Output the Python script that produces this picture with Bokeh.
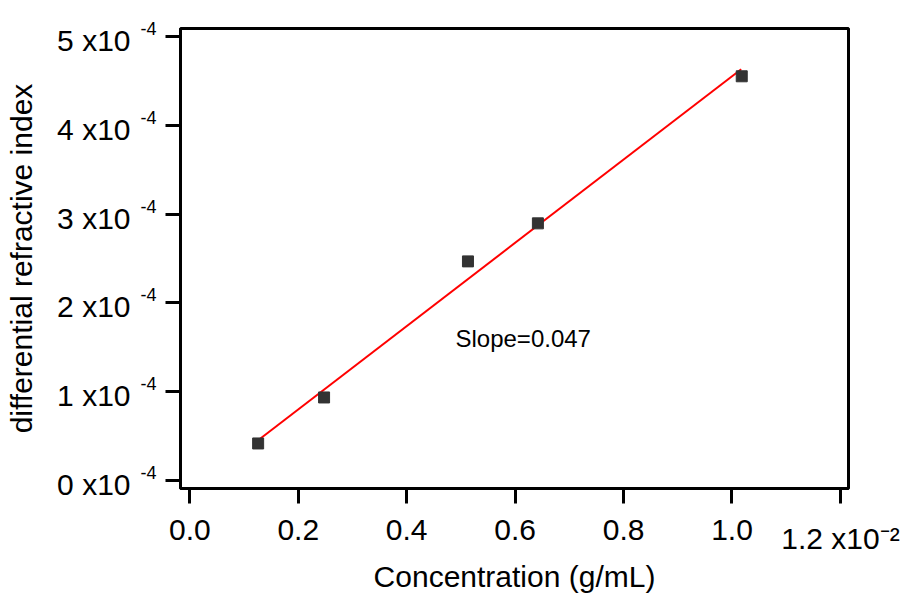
from bokeh.plotting import figure
from bokeh.models import (Range1d, FixedTicker, LinearAxis, Label, CustomJSTickFormatter)
from bokeh.embed import file_html
from bokeh.resources import INLINE

# ---- data ----
conc = [0.00126, 0.002476, 0.00513, 0.00642, 0.01018]          # g/mL
dri = [0.414e-4, 0.933e-4, 2.468e-4, 2.897e-4, 4.556e-4]      # differential refractive index
fit_x = [0.00126, 0.01017]
fit_y = [0.451e-4, 4.635e-4]
slope_text = "Slope=0.047"

x_ticks = [0.0, 0.002, 0.004, 0.006, 0.008, 0.010, 0.012]
x_tick_labels = ["0.0", "0.2", "0.4", "0.6", "0.8", "1.0", "1.2"]
x_exponent = "\u207b\u00b2"          # superscript -2
y_ticks = [0.0, 1e-4, 2e-4, 3e-4, 4e-4, 5e-4]
y_tick_labels = ["0 x10", "1 x10", "2 x10", "3 x10", "4 x10", "5 x10"]
y_exponent = "-4"

x_title = "Concentration (g/mL)"
y_title = "differential refractive index"

# ---- layout ----
X0, X1 = -0.000172, 0.012149
Y0, Y1 = -0.094e-4, 5.095e-4
FH = 460                               # frame height in px
KY = (Y1 - Y0) / FH                    # data units per pixel
FONT = "Liberation Sans"

p = figure(width=905, height=595, output_backend="svg", toolbar_location=None,
           x_range=Range1d(X0, X1), y_range=Range1d(Y0, Y1),
           min_border_left=180, min_border_right=57, min_border_top=28,
           min_border_bottom=107)
p.background_fill_color = "white"
p.border_fill_color = "white"
p.outline_line_color = "black"
p.outline_line_width = 3
p.grid.visible = False

# label-only axes use ranges shifted by a few pixels so the labels sit like the reference
p.extra_y_ranges = {
    "ysup": Range1d(Y0 - 8 * KY, Y1 - 8 * KY),     # exponent raised
    "ylab": Range1d(Y0 + 4 * KY, Y1 + 4 * KY),     # mantissa lowered
}


def fmt(labels):
    return CustomJSTickFormatter(args=dict(labels=labels), code="return labels[index]")


def style(ax, ticks, labels, size="30px", standoff=0, ticks_on=False):
    ax.ticker = FixedTicker(ticks=ticks)
    ax.formatter = fmt(labels)
    ax.major_label_text_font = FONT
    ax.major_label_text_font_size = size
    ax.major_label_text_color = "black"
    ax.major_label_standoff = standoff
    ax.minor_tick_line_color = None
    if ticks_on:
        ax.axis_line_width = 3
        ax.axis_line_color = "black"
        ax.major_tick_line_width = 3
        ax.major_tick_line_color = "black"
        ax.major_tick_out = 15
        ax.major_tick_in = 0
    else:
        ax.axis_line_color = None
        ax.major_tick_line_color = None
        ax.major_tick_out = 0
        ax.major_tick_in = 0


def title_style(ax, text, standoff):
    ax.axis_label = text
    ax.axis_label_text_font = FONT
    ax.axis_label_text_font_size = "30px"
    ax.axis_label_text_font_style = "normal"
    ax.axis_label_text_color = "black"
    ax.axis_label_standoff = standoff


# y axes: ticks, exponents, mantissas (stacked outward from the frame)
style(p.yaxis[0], y_ticks, [""] * len(y_ticks), ticks_on=True)
ysup = LinearAxis(y_range_name="ysup")
style(ysup, y_ticks, [y_exponent] * len(y_ticks), size="18px", standoff=9)
p.add_layout(ysup, "left")
ylab = LinearAxis(y_range_name="ylab")
style(ylab, y_ticks, y_tick_labels, standoff=7)
title_style(ylab, y_title, 16)
p.add_layout(ylab, "left")

# x axes: ticks + labels, then the last label (with exponent) set a little lower
n = len(x_ticks) - 1
style(p.xaxis[0], x_ticks, x_tick_labels[:n] + [""], standoff=16, ticks_on=True)
xlast = LinearAxis()
style(xlast, x_ticks[n:], [x_tick_labels[n] + " x10" + x_exponent], standoff=-21)
title_style(xlast, x_title, 2)
p.add_layout(xlast, "below")

# fit line and points
p.line(fit_x, fit_y, line_color="red", line_width=2)
p.scatter(conc, dri, marker="square", size=11, fill_color="#333333",
          line_color="#333333")

# slope annotation
p.add_layout(Label(x=0.0049, y=1.60e-4, text=slope_text, text_align="left",
                   text_baseline="alphabetic", text_font=FONT,
                   text_font_size="24px", text_color="black"))

open("out.html", "w").write(file_html(p, INLINE))
